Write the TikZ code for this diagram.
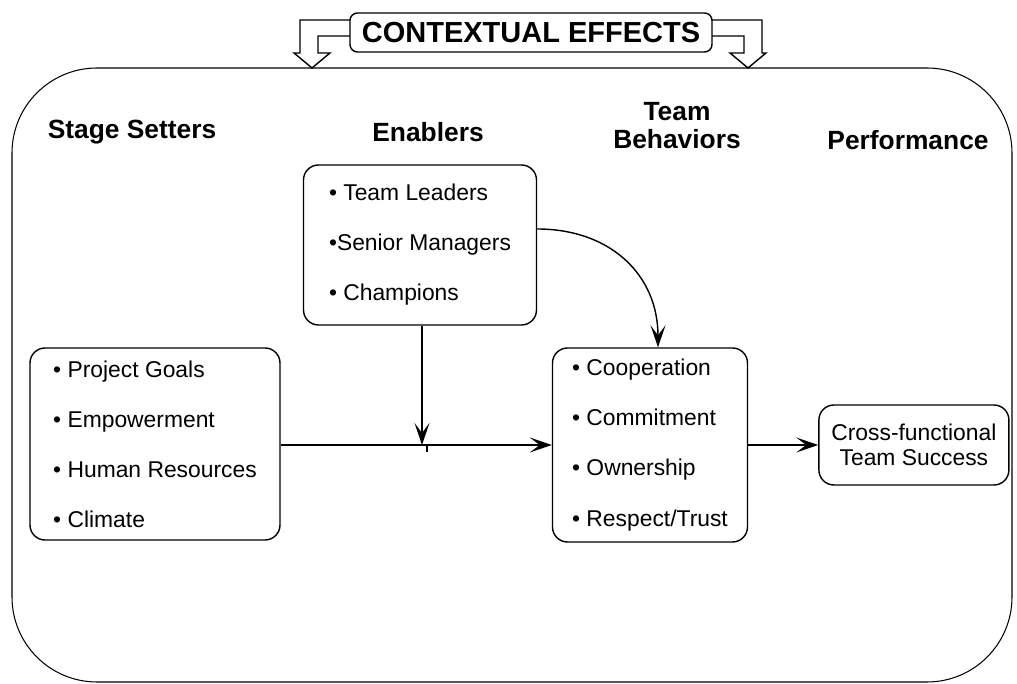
\documentclass[tikz,border=0pt]{standalone}
\usepackage{fontspec}
\setmainfont{Liberation Sans}
\usepackage{tikz}
\usetikzlibrary{arrows.meta, positioning, calc}

\begin{document}
\begin{tikzpicture}[
    box/.style={rectangle, rounded corners=0.3cm, draw, thick, align=left, inner sep=0pt, font=\fontsize{13}{28.5}\selectfont},
    head/.style={font=\fontsize{15}{16}\selectfont\bfseries, align=center},
    arrow/.style={-{Stealth[length=0.44cm, width=0.3cm, inset=0.2cm]}, thick}
]
\useasboundingbox (0,0) rectangle (20.34,13.68);

% outer frame
\draw[semithick, rounded corners=1.7cm] (0.24,0.04) rectangle (20.24,12.32);

% contextual effects banner with hollow arrows
\draw[thick, fill=white] (7.0,13.28) -- (6.0,13.28) -- (6.0,12.62) -- (5.88,12.62) -- (6.24,12.32)
    -- (6.6,12.62) -- (6.36,12.62) -- (6.36,12.96) -- (7.0,12.96);
\draw[thick, fill=white] (14.24,13.28) -- (15.24,13.28) -- (15.24,12.62) -- (15.32,12.62) -- (14.96,12.32)
    -- (14.6,12.62) -- (14.88,12.62) -- (14.88,12.96) -- (14.24,12.96);
\node[draw, thick, fill=white, rounded corners=0.15cm, minimum width=7.24cm, minimum height=0.78cm,
    font=\fontsize{16.5}{18}\selectfont\bfseries] (ctx) at (10.62,13.03) {CONTEXTUAL EFFECTS};

% column headings
\node[head] (hstage) at (2.64,11.04) {Stage Setters};
\node[head] (henab) at (8.56,11.04) {Enablers};
\node[head] (hbeh) at (13.54,11.16) {Team\\Behaviors};
\node[head] (hperf) at (18.16,10.88) {Performance};

% boxes
\node[box, minimum width=5.0cm, minimum height=3.84cm] (stage) at (3.1,4.8)
    {\textbullet{} Project Goals\\\textbullet{} Empowerment\\\textbullet{} Human Resources\\\textbullet{} Climate};
\node[box, minimum width=4.66cm, minimum height=3.2cm] (en) at (8.4,8.78)
    {\textbullet{} Team Leaders\\\textbullet Senior Managers\\\textbullet{} Champions};
\node[box, minimum width=3.9cm, minimum height=3.88cm] (beh) at (13.0,4.78)
    {\textbullet{} Cooperation\\\textbullet{} Commitment\\\textbullet{} Ownership\\\textbullet{} Respect/Trust};
\node[box, right=1.4cm of beh, minimum width=3.8cm, minimum height=1.6cm, align=center,
    font=\fontsize{13}{14.2}\selectfont] (perf) {Cross-functional\\Team Success};

% arrows
\coordinate (join) at (8.44,4.78);
\draw[arrow] (stage.east |- join) -- (beh.west |- join);
\draw[arrow] (en.south -| join) -- (join);
\draw[thick] ([xshift=0.1cm]join) -- ++(0,-0.15);
\draw[arrow] (beh) -- (perf);
\draw[arrow] ([yshift=0.32cm]en.east) to[out=0, in=90, looseness=1.1] ([xshift=0.16cm]beh.north);

\end{tikzpicture}
\end{document}
